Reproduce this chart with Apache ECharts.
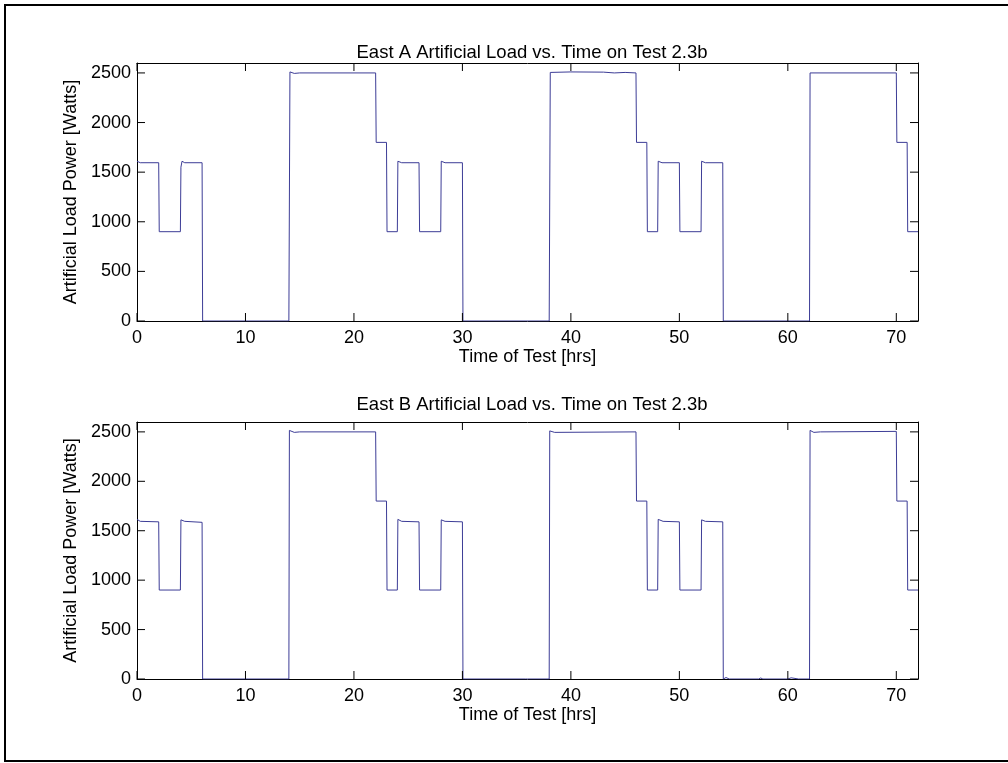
<!DOCTYPE html>
<html>
<head>
<meta charset="utf-8">
<script src="https://cdn.jsdelivr.net/npm/echarts@6/dist/echarts.min.js"></script>
<style>
  html, body { margin: 0; padding: 0; background: #fff; }
  #chart { width: 1008px; height: 763px; }
</style>
</head>
<body>
<div id="chart"></div>
<script>
// Panel titles and axis text
const titles = ['East A Artificial Load vs. Time on Test 2.3b', 'East B Artificial Load vs. Time on Test 2.3b'];
const xName = 'Time of Test [hrs]';
const yName = 'Artificial Load Power [Watts]';

// Tick positions
const xTicks = [0, 10, 20, 30, 40, 50, 60, 70];
const yTicks = [0, 500, 1000, 1500, 2000, 2500];

// East A: sample times [hrs] and artificial load [W]
const timeA = [0, 0.3, 2.0, 2.05, 4.0, 4.05, 4.15, 4.4, 6.0, 6.05, 14.0, 14.1, 14.5, 15.0, 22.0, 22.05, 23.0, 23.05, 24.0, 24.05, 24.4, 26.0, 26.05, 28.0, 28.05, 28.4, 30.0, 30.05, 38.0, 38.1, 40.0, 43.0, 44.0, 45.0, 46.0, 46.05, 47.0, 47.05, 48.0, 48.05, 48.4, 50.0, 50.05, 52.0, 52.05, 52.4, 54.0, 54.05, 62.0, 62.05, 70.0, 70.05, 71.0, 71.05, 72.0];
const loadA = [1610, 1595, 1595, 900, 900, 1550, 1610, 1595, 1595, 0, 0, 2510, 2495, 2500, 2500, 1800, 1800, 900, 900, 1610, 1595, 1595, 900, 900, 1610, 1595, 1595, 0, 0, 2505, 2510, 2508, 2500, 2505, 2500, 1800, 1800, 900, 900, 1610, 1595, 1595, 900, 900, 1610, 1595, 1595, 0, 0, 2500, 2500, 1800, 1800, 900, 900];

// East B: sample times [hrs] and artificial load [W]
const timeB = [0, 0.3, 2.0, 2.05, 4.0, 4.05, 4.4, 6.0, 6.05, 14.0, 14.05, 14.5, 15.0, 22.0, 22.05, 23.0, 23.05, 24.0, 24.05, 24.4, 26.0, 26.05, 28.0, 28.05, 28.4, 30.0, 30.05, 35.8, 35.9, 36.0, 38.0, 38.05, 38.5, 46.0, 46.05, 47.0, 47.05, 48.0, 48.05, 48.5, 50.0, 50.05, 52.0, 52.05, 52.4, 54.0, 54.05, 54.3, 54.6, 57.3, 57.5, 57.7, 60.0, 60.3, 61.0, 62.0, 62.05, 62.4, 63.0, 70.0, 70.05, 71.0, 71.05, 72.0];
const loadB = [1615, 1595, 1590, 900, 900, 1610, 1595, 1585, 0, 0, 2515, 2495, 2500, 2500, 1800, 1800, 900, 900, 1615, 1595, 1590, 900, 900, 1610, 1595, 1590, 0, 0, 12, 0, 0, 2510, 2495, 2500, 1800, 1800, 900, 900, 1615, 1595, 1590, 900, 900, 1610, 1595, 1590, 0, 15, 0, 0, 10, 0, 0, 12, 0, 0, 2515, 2495, 2500, 2505, 1800, 1800, 900, 900];

const xMin = 0, xMax = 72, xStep = 10;
const yMin = 0, yMax = 2600, yStep = 500;

const FONT = '"Liberation Sans", Arial, sans-serif';
const LINE_COLOR = '#3c3c96';
const TICK_LEN = 8;

const pairs = (t, v) => t.map((x, i) => [x, v[i]]);

const grids = [
  { left: 137, top: 63, width: 781, height: 258 },
  { left: 137, top: 422, width: 781, height: 257 }
];

const axisLineStyle = () => ({ show: true, onZero: false, lineStyle: { color: '#000', width: 1 } });
const labelStyle = () => ({ show: true, color: '#000', fontSize: 18, fontFamily: FONT, formatter: v => String(v), showMaxLabel: false });
const nameStyle = () => ({ color: '#000', fontSize: 18, fontFamily: FONT });

// Per panel: labelled bottom/left axes, bare top/right axes closing the box
const xAxes = [], yAxes = [];
grids.forEach((g, i) => {
  const xBase = { gridIndex: i, type: 'value', min: xMin, max: xMax, interval: xStep, splitLine: { show: false }, axisTick: { show: false } };
  const yBase = { gridIndex: i, type: 'value', min: yMin, max: yMax, interval: yStep, splitLine: { show: false }, axisTick: { show: false } };
  xAxes.push(Object.assign({}, xBase, {
    position: 'bottom', axisLine: axisLineStyle(),
    axisLabel: Object.assign(labelStyle(), { margin: 8 }),
    name: xName, nameLocation: 'middle', nameGap: 21, nameTextStyle: nameStyle()
  }));
  xAxes.push(Object.assign({}, xBase, { position: 'top', axisLine: axisLineStyle(), axisLabel: { show: false } }));
  yAxes.push(Object.assign({}, yBase, {
    position: 'left', axisLine: axisLineStyle(),
    axisLabel: Object.assign(labelStyle(), { margin: 6 }),
    name: yName, nameLocation: 'middle', nameGap: 49, nameRotate: 90, nameTextStyle: nameStyle()
  }));
  yAxes.push(Object.assign({}, yBase, { position: 'right', axisLine: axisLineStyle(), axisLabel: { show: false } }));
});

// Inward tick marks on opposite sides of the box, placed through the axis scales
const seg = (x1, y1, x2, y2) => ({ type: 'line', shape: { x1, y1, x2, y2 }, style: { stroke: '#000', lineWidth: 1 } });
function xTickSeries(axisIdx) {
  return {
    type: 'custom', xAxisIndex: axisIdx, yAxisIndex: axisIdx, silent: true, z: 5, clip: false,
    data: xTicks.map(v => [v, yMin]),
    renderItem: (params, api) => {
      const v = api.value(0);
      const b = api.coord([v, yMin]), t = api.coord([v, yMax]);
      return { type: 'group', children: [seg(b[0], b[1], b[0], b[1] - TICK_LEN), seg(t[0], t[1], t[0], t[1] + TICK_LEN)] };
    }
  };
}
function yTickSeries(axisIdx) {
  return {
    type: 'custom', xAxisIndex: axisIdx, yAxisIndex: axisIdx, silent: true, z: 5, clip: false,
    data: yTicks.map(v => [xMin, v]),
    renderItem: (params, api) => {
      const v = api.value(1);
      const l = api.coord([xMin, v]), r = api.coord([xMax, v]);
      return { type: 'group', children: [seg(l[0], l[1], l[0] + TICK_LEN, l[1]), seg(r[0], r[1], r[0] - TICK_LEN, r[1])] };
    }
  };
}

const chart = echarts.init(document.getElementById('chart'), null, { renderer: 'canvas' });
chart.setOption({
  animation: false,
  backgroundColor: '#fff',
  title: [
    { text: titles[0], left: 527, top: 38, textAlign: 'center',
      textStyle: { color: '#000', fontSize: 18.5, fontWeight: 'normal', fontFamily: FONT } },
    { text: titles[1], left: 527, top: 390, textAlign: 'center',
      textStyle: { color: '#000', fontSize: 18.5, fontWeight: 'normal', fontFamily: FONT } }
  ],
  grid: grids,
  xAxis: xAxes,
  yAxis: yAxes,
  series: [
    { type: 'line', xAxisIndex: 0, yAxisIndex: 0, data: pairs(timeA, loadA), showSymbol: false, z: 1,
      lineStyle: { color: LINE_COLOR, width: 1 }, silent: true },
    { type: 'line', xAxisIndex: 2, yAxisIndex: 2, data: pairs(timeB, loadB), showSymbol: false, z: 1,
      lineStyle: { color: LINE_COLOR, width: 1 }, silent: true },
    xTickSeries(0), yTickSeries(0),
    xTickSeries(2), yTickSeries(2)
  ],
  graphic: [
    { type: 'rect', shape: { x: 5, y: 5, width: 1010, height: 756 },
      style: { fill: 'none', stroke: '#000', lineWidth: 2 }, silent: true }
  ]
});
</script>
</body>
</html>
